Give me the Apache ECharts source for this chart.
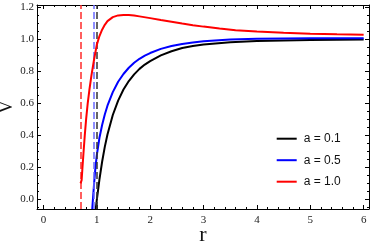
<!DOCTYPE html>
<html><head><meta charset="utf-8">
<script src="https://cdn.jsdelivr.net/npm/echarts@6/dist/echarts.min.js"></script>
<style>html,body{margin:0;padding:0;background:#fff}#c{width:374px;height:246px}</style>
</head><body><div id="c"></div>
<script>
// tick labels
const xTicks = [0, 1, 2, 3, 4, 5, 6];
const yTicks = [0.0, 0.2, 0.4, 0.6, 0.8, 1.0, 1.2];
const xMinor = [0.2,0.4,0.6,0.8,1.2,1.4,1.6,1.8,2.2,2.4,2.6,2.8,3.2,3.4,3.6,3.8,4.2,4.4,4.6,4.8,5.2,5.4,5.6,5.8,6.0];
const yMinor = [-0.05,0.05,0.1,0.15,0.25,0.3,0.35,0.45,0.5,0.55,0.65,0.7,0.75,0.85,0.9,0.95,1.05,1.1,1.15];

// series names
const seriesNames = ['a = 0.1', 'a = 0.5', 'a = 1.0'];

// a = 0.1 (black)
const rBlack = [0.98,1.0,1.05,1.1,1.15,1.2,1.3,1.4,1.5,1.6,1.7,1.8,1.9,2.0,2.2,2.4,2.6,2.8,3.0,3.5,4.0,4.5,5.0,5.5,6.0];
const vBlack = [-0.062,-0.005,0.125,0.235,0.328,0.405,0.527,0.617,0.686,0.739,0.781,0.815,0.842,0.864,0.899,0.925,0.945,0.958,0.968,0.982,0.989,0.993,0.995,0.997,0.998];

// a = 0.5 (blue)
const rBlue = [0.915,0.93,0.95,0.975,1.0,1.05,1.1,1.15,1.2,1.3,1.4,1.5,1.6,1.7,1.8,1.9,2.0,2.2,2.4,2.6,2.8,3.0,3.5,4.0,4.5,5.0,5.5,6.0];
const vBlue = [-0.06,0.01,0.10,0.20,0.275,0.385,0.465,0.53,0.585,0.67,0.735,0.783,0.822,0.853,0.878,0.898,0.914,0.940,0.958,0.971,0.980,0.987,0.998,1.003,1.005,1.006,1.007,1.007];

// a = 1.0 (red)
const rRed = [0.696,0.712,0.716,0.73,0.75,0.775,0.80,0.83,0.86,0.90,0.95,1.0,1.05,1.1,1.15,1.2,1.3,1.4,1.5,1.6,1.7,1.8,2.0,2.2,2.4,2.6,2.8,3.0,3.3,3.6,4.0,4.5,5.0,5.5,6.0];
const vRed = [0.10,0.10,0.12,0.19,0.285,0.40,0.50,0.60,0.68,0.775,0.875,0.965,1.02,1.06,1.09,1.113,1.138,1.149,1.152,1.151,1.148,1.143,1.132,1.120,1.109,1.098,1.088,1.079,1.067,1.057,1.048,1.040,1.035,1.031,1.028];

// vertical asymptotes (dashed)
const asymR = [1.0, 0.934, 0.70];

const colors = ['#000000', '#0000ff', '#ff0000'];
const dashColors = ['#333333', '#6a6aff', '#ff2a2a'];

const xMin = -0.12, xMax = 6.1, yMin = -0.06, yMax = 1.214;

function zip(a, b) { return a.map((v, i) => [v, b[i]]); }

const serif = 'Liberation Serif';
const base = { type: 'value', splitLine: { show: false } };

function xAx(pos, major) {
  return Object.assign({}, base, {
    min: xMin, max: xMax, position: pos,
    axisLine: { show: major, onZero: false, lineStyle: { color: '#000', width: 1 } },
    axisTick: { show: true, inside: true, length: major ? 4 : 2, customValues: major ? xTicks : xMinor, lineStyle: { color: '#000', width: 1 } },
    axisLabel: (major && pos === 'bottom') ? { show: true, customValues: xTicks, fontFamily: serif, fontSize: 11, color: '#222', margin: 6 } : { show: false },
    name: (major && pos === 'bottom') ? 'r' : '',
    nameLocation: 'middle', nameGap: 15, nameMoveOverlap: false,
    nameTextStyle: { fontFamily: serif, fontSize: 22, color: '#111' }
  });
}
function yAx(pos, major) {
  return Object.assign({}, base, {
    min: yMin, max: yMax, position: pos,
    axisLine: { show: major, onZero: false, lineStyle: { color: '#000', width: 1 } },
    axisTick: { show: true, inside: true, length: major ? 4 : 2, customValues: major ? yTicks : yMinor, lineStyle: { color: '#000', width: 1 } },
    axisLabel: (major && pos === 'left') ? { show: true, customValues: yTicks, fontFamily: serif, fontSize: 11, color: '#222', margin: 3, formatter: v => Number(v).toFixed(1) } : { show: false },
    name: (major && pos === 'left') ? 'V' : '',
    nameLocation: 'middle', nameGap: 21, nameMoveOverlap: false,
    nameTextStyle: { fontFamily: serif, fontSize: 18, color: '#111' }
  });
}

const rs = [rBlack, rBlue, rRed];
const vs = [vBlack, vBlue, vRed];

const series = seriesNames.map((n, i) => ({
  name: n, type: 'line', xAxisIndex: 0, yAxisIndex: 0,
  data: zip(rs[i], vs[i]), showSymbol: false, symbol: 'none',
  smooth: false,
  lineStyle: { color: colors[i], width: 2 }, itemStyle: { color: colors[i] },
  z: 3 + i,
  markLine: {
    silent: true, symbol: ['none', 'none'], label: { show: false },
    lineStyle: { color: dashColors[i], width: 1.5, type: [7, 3] },
    data: [[{ coord: [asymR[i], yMin] }, { coord: [asymR[i], yMax] }]]
  }
}));

const chart = echarts.init(document.getElementById('c'), null, { renderer: 'canvas' });
chart.setOption({
  animation: false,
  backgroundColor: '#fff',
  grid: { left: 37, right: 5, top: 5, bottom: 37, containLabel: false, outerBoundsMode: 'none' },
  xAxis: [xAx('bottom', true), xAx('bottom', false), xAx('top', true), xAx('top', false)],
  yAxis: [yAx('left', true), yAx('left', false), yAx('right', true), yAx('right', false)],
  legend: {
    orient: 'vertical', left: 271.7, top: 126.7, itemGap: 7.5,
    itemWidth: 20, itemHeight: 2, icon: 'rect',
    textStyle: { fontFamily: 'Liberation Sans', fontSize: 12, color: '#111', lineHeight: 14, padding: [0, 0, 0, 2] },
    data: seriesNames
  },
  series: series
});
</script></body></html>
